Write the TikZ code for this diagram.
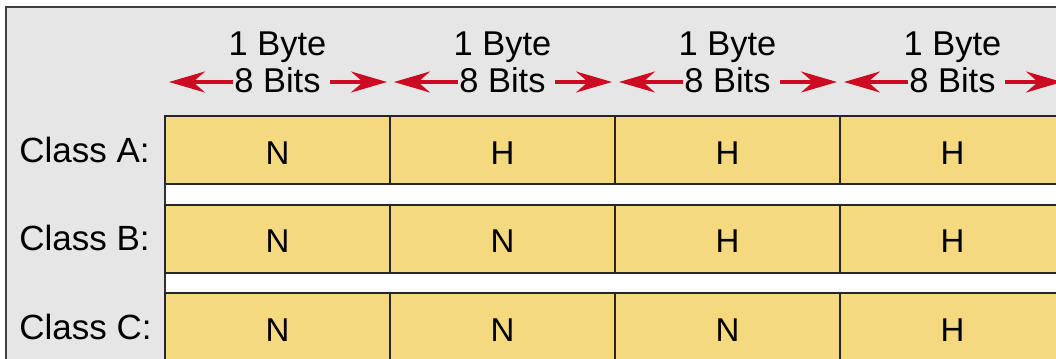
\documentclass[tikz,border=0pt]{standalone}
\usepackage{fontspec}
\setmainfont{Liberation Sans}
\usetikzlibrary{arrows.meta}
\definecolor{panelgray}{HTML}{E6E6E6}
\definecolor{cellyellow}{HTML}{F4D97E}
\definecolor{arrowred}{HTML}{CC0A22}

\begin{document}
\begin{tikzpicture}[x=0.5pt, y=-0.5pt,
    cellbox/.style={fill=cellyellow, draw=black!85, line width=1pt},
    cellltr/.style={font=\fontsize{16.5}{18}\selectfont, anchor=base, inner sep=0pt},
    rowlabel/.style={font=\fontsize{17.5}{19}\selectfont, anchor=base west, inner sep=0pt},
    headtext/.style={font=\fontsize{17.2}{19}\selectfont, anchor=base, inner xsep=0.5pt},
    bitarrow/.style={arrowred, line width=1.6pt, -{Stealth[length=18pt, width=10.5pt, inset=6pt]}},
    frameline/.style={black!75, line width=1.3pt},
]
    \def\colw{225}
    \def\rowh{68}
    \def\rowp{88.5}
    \clip (0,0) rectangle (1056,359);
    \fill[white] (0,0) rectangle (1056,359);
    % grey panels and outer frame
    \fill[panelgray] (6,7) rectangle (1080,116);
    \fill[panelgray] (6,7) rectangle (165,380);
    \draw[frameline] (6,380) -- (6,7) -- (1080,7);
    \draw[black!80, line width=1pt] (165,116) -- (165,380);

    \foreach \cls/\cells [count=\r from 0] in {A/{N,H,H,H}, B/{N,N,H,H}, C/{N,N,N,H}}{
        \pgfmathsetmacro{\yt}{116+\r*\rowp}
        \pgfmathsetmacro{\yc}{\yt+\rowh/2}
        \node[rowlabel] (lbl-\cls) at (19, \yc+12) {Class \cls:};
        \foreach \ltr [count=\c from 0] in \cells {
            \pgfmathsetmacro{\xl}{165+\c*\colw}
            \draw[cellbox] (\xl, \yt) rectangle (\xl+\colw, \yt+\rowh);
            \node[cellltr] (cell-\cls-\c) at (\xl+\colw/2, \yc+14) {\ltr};
        }
    }

    \foreach \i in {0,...,3}{
        \pgfmathsetmacro{\xl}{165+\i*\colw}
        \coordinate (tipl-\i) at (\xl+4, 82);
        \coordinate (tipr-\i) at (\xl+\colw-3, 82);
        \node[headtext] (byte-\i) at (\xl+\colw/2, 55) {1 Byte};
        \node[headtext] (bits-\i) at (\xl+\colw/2, 92) {8 Bits};
        \draw[bitarrow] (bits-\i.west |- tipl-\i) -- (tipl-\i);
        \draw[bitarrow, shorten <=4pt] (bits-\i.east |- tipr-\i) -- (tipr-\i);
    }

\end{tikzpicture}
\end{document}
